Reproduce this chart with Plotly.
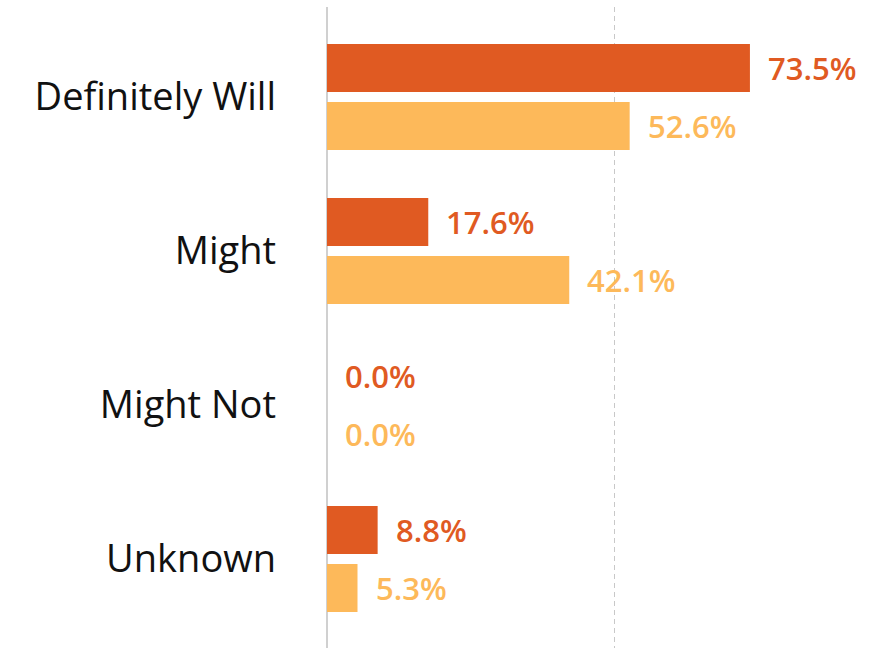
import plotly.graph_objects as go

categories = ["Definitely Will", "Might", "Might Not", "Unknown"]
series_a = [73.5, 17.6, 0.0, 8.8]
series_b = [52.6, 42.1, 0.0, 5.3]
series_names = ["Group A", "Group B"]

dark = "#E05A22"
light = "#FDB95A"

fig = go.Figure()
fig.add_trace(go.Bar(y=categories, x=series_a, orientation="h", name=series_names[0],
                     marker=dict(color=dark, line=dict(width=0))))
fig.add_trace(go.Bar(y=categories, x=series_b, orientation="h", name=series_names[1],
                     marker=dict(color=light, line=dict(width=0))))

# value labels just past the end of each bar
for cat, va, vb in zip(categories, series_a, series_b):
    for v, col, shift in ((va, dark, 29), (vb, light, -29)):
        fig.add_annotation(x=v, y=cat, xref="x", yref="y", text=f"{v:.1f}%",
                           showarrow=False, xanchor="left", yanchor="middle",
                           xshift=16, yshift=shift,
                           font=dict(family="Open Sans", size=31, color=col, weight=600))

fig.update_layout(
    width=884, height=648,
    margin=dict(l=327, r=0, t=7, b=0),
    paper_bgcolor="white", plot_bgcolor="white",
    barmode="group", bargap=0.247, bargroupgap=0.172,
    showlegend=False,
    xaxis=dict(range=[0, 96.8], tickvals=[50], showticklabels=False,
               showgrid=True, gridcolor="#C8C8C8", gridwidth=1, griddash="5px,4px",
               zeroline=True, zerolinecolor="#D0D0D0", zerolinewidth=2,
               fixedrange=True),
    yaxis=dict(categoryorder="array", categoryarray=categories,
               range=[3.578, -0.584], showgrid=False, zeroline=False,
               ticks="", ticklabelstandoff=50,
               tickfont=dict(family="Open Sans", size=38, color="#111111")),
)

fig.write_html("out.html")
